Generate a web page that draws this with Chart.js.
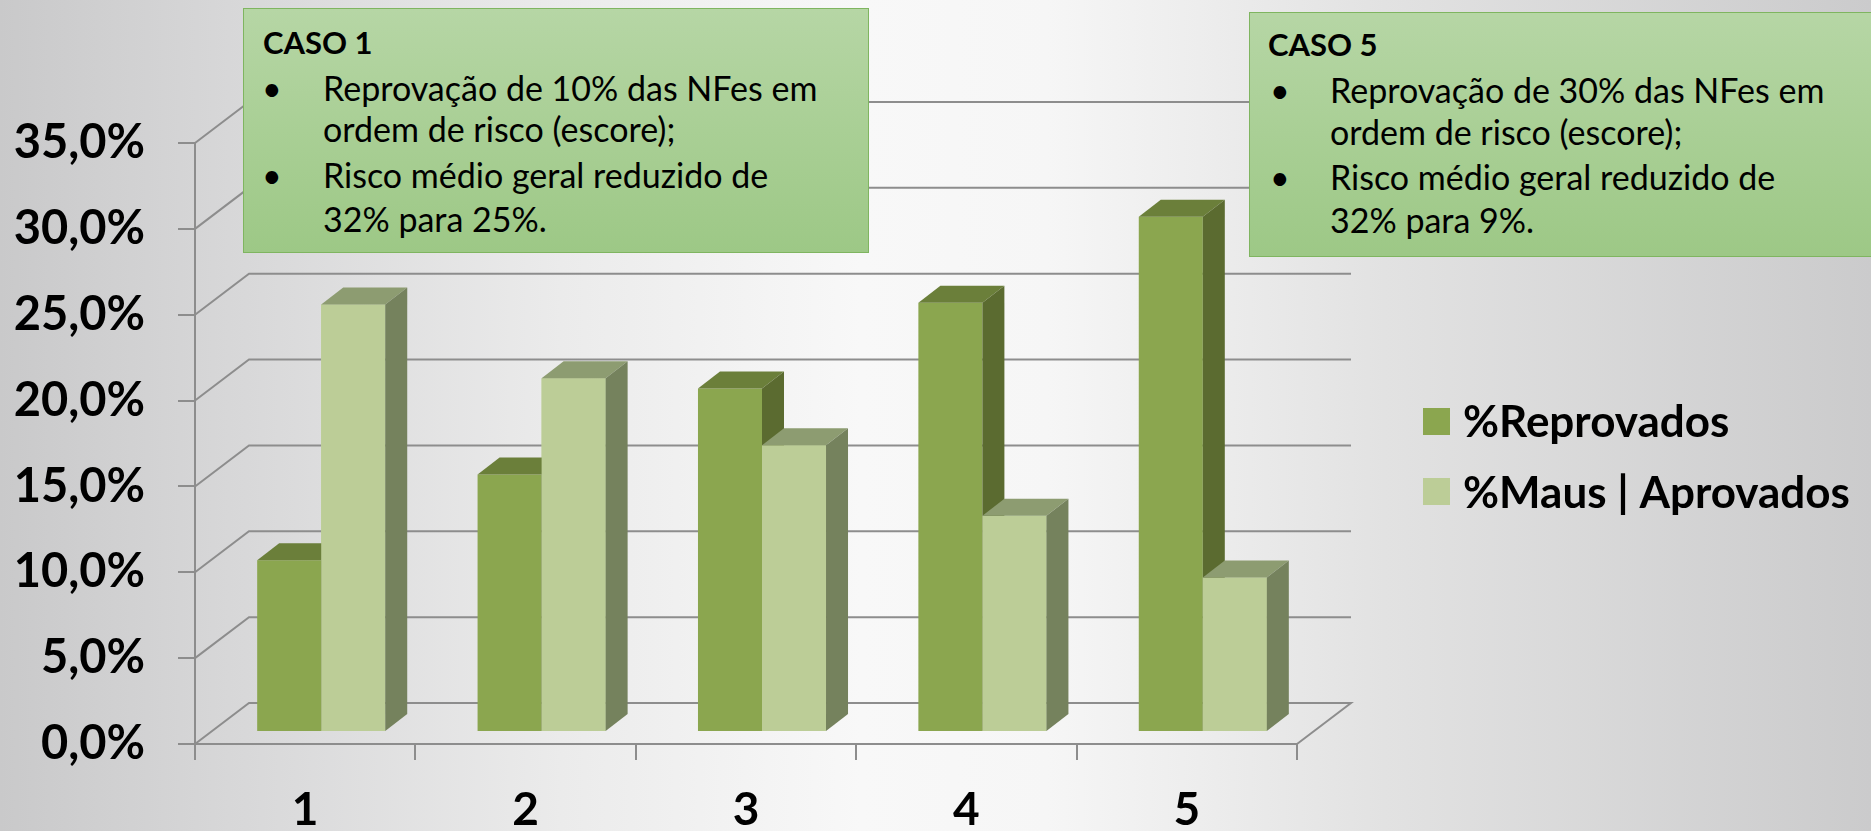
<!DOCTYPE html>
<html>
<head>
<meta charset="utf-8">
<script src="https://cdn.jsdelivr.net/npm/chart.js@4.4.1/dist/chart.umd.min.js"></script>
<style>
  html, body { margin: 0; padding: 0; }
  body {
    width: 1871px; height: 831px; overflow: hidden; position: relative;
    background: linear-gradient(90deg, #c9c9ca 0%, #d9d9da 14%, #ebebeb 30%, #f8f8f8 46%, #f6f6f6 56%, #e2e2e2 74%, #cbcbcc 100%);
    font-family: Lato, "Open Sans", sans-serif;
  }
  #c { position: absolute; left: 0; top: 0; }
  .box {
    position: absolute; box-sizing: border-box;
    border: 1.5px solid #7fb560;
    background: linear-gradient(180deg, #b6d6a5 0%, #a9cf95 50%, #9dc886 100%);
  }
  .t { position: absolute; white-space: nowrap; color: #000; line-height: 1.2; }
  .h { font-weight: 700; font-size: 31px; }
  .b { font-weight: 400; font-size: 34px; }
</style>
</head>
<body>
<canvas id="c" width="1871" height="831"></canvas>

<div class="box" style="left:243px; top:8px; width:626px; height:245px;"></div>
<div class="t h" style="left:263px; top:24px;">CASO 1</div>
<div class="t b" style="left:262px; top:68px;">•</div>
<div class="t b" style="left:323px; top:68px;">Reprovação de 10% das NFes em</div>
<div class="t b" style="left:323px; top:109px;">ordem de risco (escore);</div>
<div class="t b" style="left:262px; top:155px;">•</div>
<div class="t b" style="left:323px; top:155px;">Risco médio geral reduzido de</div>
<div class="t b" style="left:323px; top:199px;">32% para 25%.</div>

<div class="box" style="left:1249px; top:12px; width:640px; height:245px;"></div>
<div class="t h" style="left:1268px; top:26px;">CASO 5</div>
<div class="t b" style="left:1270px; top:70px;">•</div>
<div class="t b" style="left:1330px; top:70px;">Reprovação de 30% das NFes em</div>
<div class="t b" style="left:1330px; top:112px;">ordem de risco (escore);</div>
<div class="t b" style="left:1270px; top:157px;">•</div>
<div class="t b" style="left:1330px; top:157px;">Risco médio geral reduzido de</div>
<div class="t b" style="left:1330px; top:200px;">32% para 9%.</div>

<script>
// ---- data ----
const categories = ['1', '2', '3', '4', '5'];
const reprovados = [10.0, 15.0, 20.0, 25.0, 30.0];
const mausAprovados = [24.9, 20.6, 16.7, 12.6, 9.0];
const seriesNames = ['%Reprovados', '%Maus | Aprovados'];
const yTicks = [0, 5, 10, 15, 20, 25, 30, 35];

// ---- style ----
const GRID = '#8d8d8d';
const WALL_DX = 54, WALL_DY = -41;
const BAR_SHIFT_X = 16, BAR_SHIFT_Y = -12;
const BAR_DX = 22, BAR_DY = -17;
const FONT = 'Lato, "Open Sans", sans-serif';

function drawFaces(ctx, meta, ds) {
  meta.data.forEach(el => {
    const p = el.getProps(['x', 'y', 'base', 'width'], true);
    const l = p.x - p.width / 2, r = p.x + p.width / 2, t = p.y, b = p.base;
    ctx.fillStyle = ds.topColor;
    ctx.beginPath();
    ctx.moveTo(l, t); ctx.lineTo(r, t); ctx.lineTo(r + BAR_DX, t + BAR_DY); ctx.lineTo(l + BAR_DX, t + BAR_DY);
    ctx.closePath(); ctx.fill();
    ctx.fillStyle = ds.sideColor;
    ctx.beginPath();
    ctx.moveTo(r, t); ctx.lineTo(r + BAR_DX, t + BAR_DY); ctx.lineTo(r + BAR_DX, b + BAR_DY); ctx.lineTo(r, b);
    ctx.closePath(); ctx.fill();
  });
}

const wallPlugin = {
  id: 'wall',
  beforeDatasetsDraw(chart) {
    const ctx = chart.ctx, ys = chart.scales.y, ca = chart.chartArea;
    ctx.save();
    ctx.strokeStyle = GRID;
    ctx.lineWidth = 2;
    yTicks.forEach(v => {
      const yf = ys.getPixelForValue(v);
      ctx.beginPath();
      ctx.moveTo(ca.left, yf);
      ctx.lineTo(ca.left + WALL_DX, yf + WALL_DY);
      ctx.lineTo(ca.right + WALL_DX, yf + WALL_DY);
      if (v === 0) ctx.lineTo(ca.right, yf);
      ctx.stroke();
    });
    ctx.restore();
    ctx.save();
    ctx.translate(BAR_SHIFT_X, BAR_SHIFT_Y);
  },
  afterDatasetsDraw(chart) {
    const ctx = chart.ctx;
    drawFaces(ctx, chart.getDatasetMeta(0), chart.data.datasets[0]);
    const m1 = chart.getDatasetMeta(1);
    m1.data.forEach(el => el.draw(ctx));
    drawFaces(ctx, m1, chart.data.datasets[1]);
    ctx.restore();
  }
};

const legendPlugin = {
  id: 'customLegend',
  afterDraw(chart) {
    const ctx = chart.ctx;
    ctx.save();
    chart.data.datasets.forEach((ds, i) => {
      ctx.fillStyle = ds.backgroundColor;
      ctx.fillRect(1423, 408 + i * 70, 27, 27);
      ctx.fillStyle = '#000';
      ctx.font = 'bold 44px ' + FONT;
      ctx.textBaseline = 'alphabetic';
      ctx.fillText(ds.label, 1463, 437 + i * 71);
    });
    ctx.restore();
  }
};

new Chart(document.getElementById('c'), {
  type: 'bar',
  data: {
    labels: categories,
    datasets: [
      { label: seriesNames[0], data: reprovados, backgroundColor: '#8ba64f',
        topColor: '#6b7f3a', sideColor: '#5b6b30', clip: false },
      { label: seriesNames[1], data: mausAprovados, backgroundColor: '#bccd97',
        topColor: '#8d9c71', sideColor: '#75825d', clip: false }
    ]
  },
  options: {
    responsive: false,
    animation: false,
    devicePixelRatio: 1,
    layout: { padding: { left: 0, top: 143, right: 574, bottom: 0 } },
    datasets: { bar: { barPercentage: 1.0, categoryPercentage: 0.581 } },
    plugins: { legend: { display: false }, tooltip: { enabled: false } },
    scales: {
      x: {
        grid: { offset: true, drawOnChartArea: false, drawTicks: true, tickLength: 16, color: GRID, lineWidth: 2 },
        border: { display: true, color: GRID, width: 2 },
        ticks: { color: '#000', font: { family: FONT, size: 46, weight: 'bold', lineHeight: 1 }, padding: 27 },
        afterFit(s) { s.height = 87; }
      },
      y: {
        min: 0, max: 35,
        afterBuildTicks(s) { s.ticks = yTicks.map(v => ({ value: v })); },
        grid: { drawOnChartArea: false, drawTicks: true, tickLength: 17, color: GRID, lineWidth: 2 },
        border: { display: true, color: GRID, width: 2 },
        ticks: {
          color: '#000', padding: 33,
          font: { family: FONT, size: 47, weight: 'bold' },
          callback: v => v.toFixed(1).replace('.', ',') + '%'
        },
        afterFit(s) { s.width = 195; }
      }
    }
  },
  plugins: [wallPlugin, legendPlugin]
});
</script>
</body>
</html>
